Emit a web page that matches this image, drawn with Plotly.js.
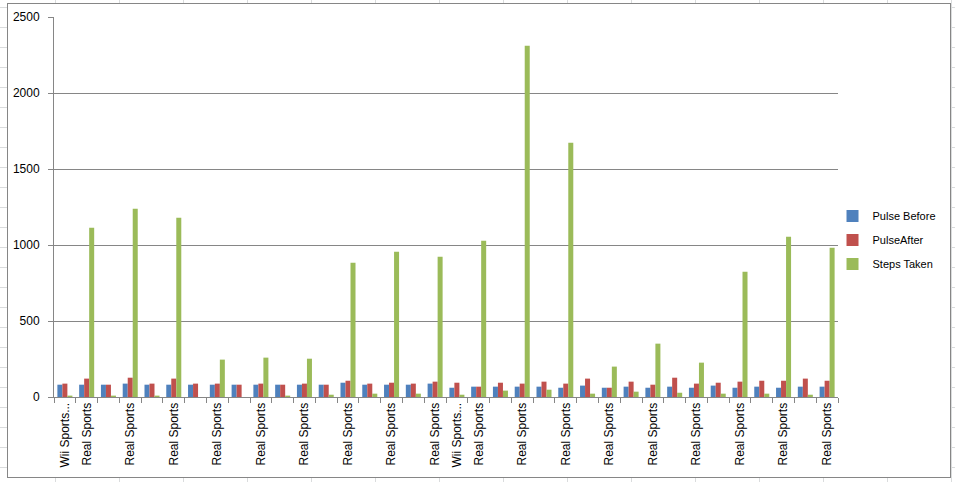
<!DOCTYPE html>
<html>
<head>
<meta charset="utf-8">
<script src="https://cdn.plot.ly/plotly-3.0.1.min.js"></script>
<style>
  html, body { margin: 0; padding: 0; width: 955px; height: 482px; overflow: hidden; }
  body {
    background-color: #ffffff;
    background-image:
      linear-gradient(to right, #dadcdd 1px, transparent 1px),
      linear-gradient(to bottom, #dadcdd 1px, transparent 1px);
    background-size: 64px 20px;
    background-position: 55px 7px;
  }
  #frame {
    position: absolute; left: 7px; top: 3px;
    width: 942px; height: 473px;
    border: 1px solid #868686;
    background: #ffffff;
  }
  #chart { width: 942px; height: 473px; }
</style>
</head>
<body>
<div id="frame"><div id="chart"></div></div>
<script>
// Category labels (Excel shows every label; blank ones are empty rows)
const categories = [
  "Wii Sports...", "Real Sports", "", "Real Sports", "", "Real Sports", "", "Real Sports", "",
  "Real Sports", "", "Real Sports", "", "Real Sports", "", "Real Sports", "", "Real Sports",
  "Wii Sports...", "Real Sports", "", "Real Sports", "", "Real Sports", "", "Real Sports", "",
  "Real Sports", "", "Real Sports", "", "Real Sports", "", "Real Sports", "", "Real Sports"
];

const pulseBefore = [
  81, 81, 81, 88, 81, 81, 81, 81, 81,
  81, 81, 81, 81, 94, 81, 81, 81, 88,
  61, 68, 68, 68, 68, 61, 75, 61, 68,
  61, 68, 61, 75, 61, 68, 61, 68, 68
];

const pulseAfter = [
  88, 121, 81, 127, 88, 121, 88, 88, 81,
  88, 81, 88, 81, 107, 88, 94, 88, 101,
  94, 68, 94, 88, 101, 88, 121, 61, 101,
  81, 127, 88, 94, 101, 107, 107, 121, 107
];

const stepsTaken = [
  9, 1114, 9, 1239, 9, 1180, 0, 246, 0,
  259, 9, 252, 15, 884, 22, 956, 22, 923,
  15, 1028, 42, 2311, 48, 1673, 22, 200, 35,
  351, 28, 226, 22, 824, 22, 1055, 15, 982
];

const seriesNames = ["Pulse Before", "PulseAfter", "Steps Taken"];
const seriesColors = ["#4F81BD", "#C0504D", "#9BBB59"];
const yTicks = [0, 500, 1000, 1500, 2000, 2500];

const idx = categories.map((_, i) => i);
const boundaries = categories.map((_, i) => i - 0.5).concat([categories.length - 0.5]);

const allSeries = [pulseBefore, pulseAfter, stepsTaken];
const traces = allSeries.map((vals, k) => ({
  type: "bar",
  x: idx,
  y: vals,
  name: seriesNames[k],
  legendgroup: "g" + k,
  marker: { color: seriesColors[k] },
  hoverinfo: "x+y+name"
}));

const font = { family: "Liberation Sans, Arial, sans-serif", size: 12, color: "#000000" };

const layout = {
  width: 942,
  height: 473,
  margin: { l: 46, r: 112, t: 13, b: 80, autoexpand: false },
  paper_bgcolor: "#ffffff",
  plot_bgcolor: "#ffffff",
  font: font,
  barmode: "group",
  bargap: 0.31,
  bargroupgap: 0,
  showlegend: true,
  legend: {
    x: 0.993, xanchor: "left",
    y: 0.413, yanchor: "middle",
    traceorder: "grouped",
    tracegroupgap: 5,
    font: { family: "Liberation Sans, Arial, sans-serif", size: 11, color: "#000000" },
    bgcolor: "rgba(0,0,0,0)",
    itemwidth: 30
  },
  xaxis: {
    type: "linear",
    range: [-0.5, categories.length - 0.5],
    tickmode: "array",
    tickvals: idx,
    ticktext: categories,
    tickangle: -90,
    ticks: "",
    showgrid: false,
    zeroline: false,
    showline: true,
    linecolor: "#868686",
    linewidth: 1,
    tickfont: font,
    minor: {
      tickmode: "array",
      tickvals: boundaries,
      ticks: "outside",
      ticklen: 5,
      tickcolor: "#868686",
      showgrid: false
    },
    fixedrange: true
  },
  yaxis: {
    range: [0, 2500],
    tickmode: "array",
    tickvals: yTicks,
    ticktext: yTicks.map(String),
    ticks: "outside",
    ticklen: 5,
    tickcolor: "#868686",
    ticklabelstandoff: 6,
    showgrid: true,
    gridcolor: "#868686",
    gridwidth: 1,
    zeroline: false,
    showline: true,
    linecolor: "#868686",
    linewidth: 1,
    tickfont: font,
    fixedrange: true
  }
};

Plotly.newPlot("chart", traces, layout, { displayModeBar: false, staticPlot: true });
</script>
</body>
</html>
